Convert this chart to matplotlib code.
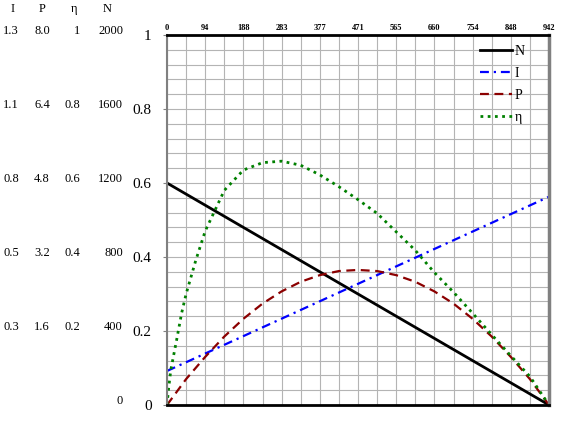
import matplotlib
matplotlib.use("Agg")
import matplotlib.pyplot as plt
from matplotlib.ticker import MultipleLocator

plt.rcParams["font.family"] = ["Liberation Serif", "DejaVu Serif"]

# x values (torque axis, top scale 0..942)
x_top_ticks = [0, 94.2, 188.4, 282.6, 376.8, 471, 565.2, 659.4, 753.6, 847.8, 942]
x_top_labels = ["0", "94", "188", "283", "377", "471", "565", "660", "754", "848", "942"]

# straight lines: end points
n_x = [0, 942]
n_y = [0.60, 0.0]
i_x = [0, 942]
i_y = [0.092, 0.563]

# P and efficiency read at the grid columns
curve_x = [0, 47.1, 94.2, 141.3, 188.4, 235.5, 282.6, 329.7, 376.8, 423.9, 471,
           518.1, 565.2, 612.3, 659.4, 706.5, 753.6, 800.7, 847.8, 894.9, 942]
p_y = [0, 0.070, 0.130, 0.185, 0.233, 0.274, 0.307, 0.333, 0.351, 0.362, 0.365,
       0.362, 0.351, 0.333, 0.307, 0.274, 0.233, 0.185, 0.130, 0.070, 0]
eta_x = [0, 4, 9.4, 23.6, 36, 47.1, 70.7, 94.2, 141.3, 188.4, 235.5, 282.6, 329.7,
         376.8, 423.9, 471, 518.1, 565.2, 612.3, 659.4, 706.5, 753.6, 800.7, 847.8,
         894.9, 942]
eta_y = [0, 0.045, 0.095, 0.175, 0.248, 0.300, 0.390, 0.470, 0.580, 0.635, 0.655,
         0.659, 0.648, 0.622, 0.590, 0.555, 0.518, 0.468, 0.418, 0.358, 0.305,
         0.248, 0.190, 0.133, 0.077, 0]

# side scale columns
row_pos = [1.0, 0.8, 0.6, 0.4, 0.2]
col_i = ["1.3", "1.1", "0.8", "0.5", "0.3"]
col_p = ["8.0", "6.4", "4.8", "3.2", "1.6"]
col_eta = ["1", "0.8", "0.6", "0.4", "0.2"]
col_n = ["2000", "1600", "1200", "800", "400", "0"]
n_rows = [1.0, 0.8, 0.6, 0.4, 0.2, 0.0]

W, H = 561, 422
fig = plt.figure(figsize=(W / 100, H / 100), dpi=100)
L, R, T, B = 167, 549, 35, 405
ax = fig.add_axes([L / W, (H - B) / H, (R - L) / W, (B - T) / H])

ax.plot(n_x, n_y, color="black", lw=2, label="N")
ax.plot(i_x, i_y, color="#0000ff", lw=1.6, linestyle=(0, (4, 2.2, 1, 2.2)), label="I")
ax.plot(curve_x, p_y, color="#8b0000", lw=1.6, linestyle=(0, (4, 2.5)), label="P")
ax.plot(eta_x, eta_y, color="#008000", lw=2, linestyle=(0, (1, 1.6)), label="η")

ax.set_xlim(0, 942)
ax.set_ylim(0, 1)
ax.xaxis.set_major_locator(MultipleLocator(47.1))
ax.yaxis.set_major_locator(MultipleLocator(0.04))
ax.grid(True, color="#b4b4b4", lw=0.8)
ax.set_axisbelow(True)

ax.tick_params(axis="x", which="both", length=0, labelbottom=False)
ax.tick_params(axis="y", which="both", length=0, labelleft=False)

# top labels
ax2 = ax.secondary_xaxis("top")
ax2.set_xticks(x_top_ticks)
ax2.set_xticklabels(x_top_labels, fontsize=6, fontweight="bold")
ax2.tick_params(length=0, pad=2)
ax2.spines["top"].set_visible(False)

# left labels
ax3 = ax.secondary_yaxis("left")
ax3.set_yticks([0, 0.2, 0.4, 0.6, 0.8, 1.0])
ax3.set_yticklabels(["0", "0.2", "0.4", "0.6", "0.8", "1"], fontsize=11)
ax3.tick_params(length=3, color="#808080", pad=8)
ax3.spines["left"].set_visible(False)

for s in ["top", "bottom"]:
    ax.spines[s].set_color("black")
    ax.spines[s].set_linewidth(2)
ax.spines["left"].set_color("#808080")
ax.spines["left"].set_linewidth(1.5)
ax.spines["right"].set_color("#808080")
ax.spines["right"].set_linewidth(2.5)

# side columns
def fy(v):
    return ((H - B) + v * (B - T) + 4) / H

fig.text(13 / W, 1 - 9 / H, "I", ha="center", va="center", fontsize=9)
fig.text(42 / W, 1 - 9 / H, "P", ha="center", va="center", fontsize=9)
fig.text(74 / W, 1 - 9 / H, "η", ha="center", va="center", fontsize=9)
fig.text(107 / W, 1 - 9 / H, "N", ha="center", va="center", fontsize=9)
for v, a, b, c in zip(row_pos, col_i, col_p, col_eta):
    fig.text(19 / W, fy(v), a, ha="right", va="center", fontsize=9)
    fig.text(50 / W, fy(v), b, ha="right", va="center", fontsize=9)
    fig.text(80 / W, fy(v), c, ha="right", va="center", fontsize=9)
for v, d in zip(n_rows, col_n):
    fig.text(123 / W, fy(v), d, ha="right", va="center", fontsize=9)

ax.legend(loc="upper right", bbox_to_anchor=(532 / W, 1 - 38 / H),
          bbox_transform=fig.transFigure, frameon=False, fontsize=10,
          handlelength=2.3, handletextpad=0.2, labelspacing=0.65, borderpad=0)

fig.savefig("out.png", dpi=100)
